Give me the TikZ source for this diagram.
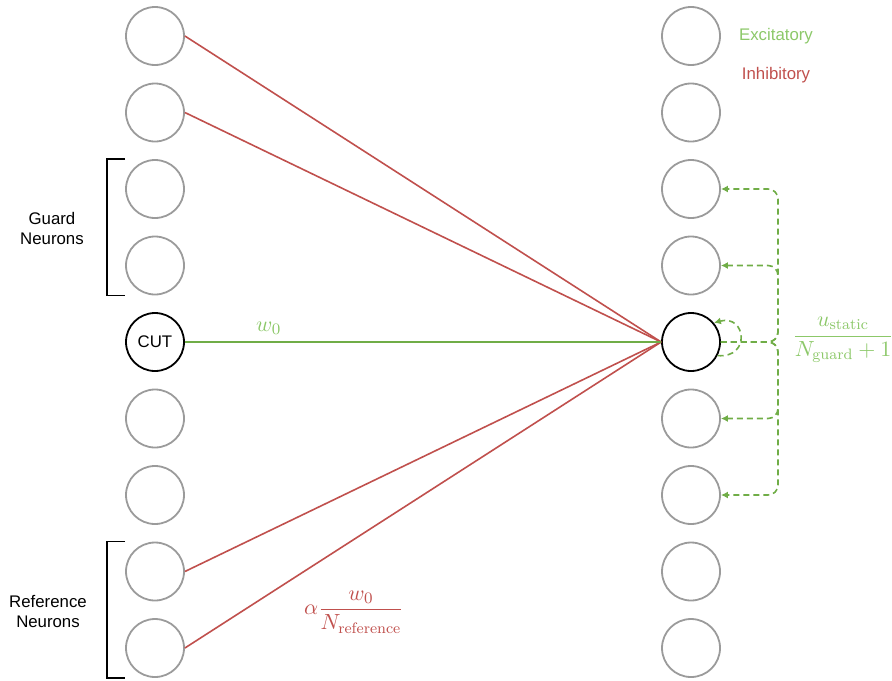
\documentclass[tikz,border=0pt]{standalone}
\usepackage{amsmath}
\usepackage{fontspec}
\newfontfamily\labelfont{Liberation Sans}
\usetikzlibrary{arrows.meta, positioning}

\definecolor{inhibred}{RGB}{192,80,77}
\definecolor{excitgreen}{RGB}{112,173,71}
\definecolor{excitlight}{RGB}{140,200,105}
\definecolor{neurongray}{RGB}{155,155,155}

\tikzset{
  neuron/.style={circle, draw=neurongray, line width=0.9pt, minimum size=29pt, inner sep=0pt},
  active/.style={neuron, draw=black},
  inhib/.style={draw=inhibred, line width=0.8pt},
  excit/.style={draw=excitgreen, line width=0.8pt},
  feedback/.style={excit, dash pattern=on 3pt off 2pt, -{Latex[length=3.5pt,width=3.5pt]}, rounded corners=5pt},
  lbl/.style={font=\labelfont\fontsize{8.4}{10}\selectfont, align=center},
  mathlbl/.style={font=\fontsize{10.8}{13}\selectfont},
  bracket/.style={draw=black, line width=0.8pt},
}

\begin{document}
\begin{tikzpicture}[x=0.5pt, y=-0.5pt]
\useasboundingbox (0,0) rectangle (892,680);

% the two columns of neurons
\foreach \i in {1,2,3,4,6,7,8,9} {
  \node[neuron] (pre\i) at (155, {36+(\i-1)*76.5}) {};
  \node[neuron] (post\i) at (691, {36+(\i-1)*76.5}) {};
}
\node[active, lbl] (pre5) at (155, 342) {CUT};
\node[active] (post5) at (691, 342) {};

% inhibitory connections from guard and reference neurons
\foreach \i in {1,2,8,9}
  \draw[inhib] (pre\i.east) -- (post5.west);

% excitatory connection from the cut
\draw[excit] (pre5.east) -- node[pos=0.176, above, mathlbl, text=excitlight] {$w_0$} (post5.west);

\node[mathlbl, text=inhibred] (alphalbl) at (354,612) {$\alpha\dfrac{w_0}{N_{\mathrm{reference}}}$};

% feedback to the guard positions
\coordinate (bus) at (778,342);
\foreach \j in {3,4,6,7}
  \draw[feedback] (post5.east) -- (bus) |- (post\j.east);
\draw[feedback] (post5.-27) to[out=-5, in=15, looseness=2.6] (post5.40);

\node[mathlbl, text=excitlight] (staticlbl) at (843,340) {$\dfrac{u_{\mathrm{static}}}{N_{\mathrm{guard}}+1}$};

% brackets and group labels
\draw[bracket] ([xshift=-15pt]pre3.north) -- ([xshift=-24pt]pre3.north) -- ([xshift=-24pt]pre4.south) -- ([xshift=-15pt]pre4.south);
\draw[bracket] ([xshift=-15pt]pre8.north) -- ([xshift=-24pt]pre8.north) -- ([xshift=-24pt]pre9.south) -- ([xshift=-15pt]pre9.south);
\node[lbl] (guardlbl) at (52,228) {Guard\\Neurons};
\node[lbl] (reflbl) at (48,611) {Reference\\Neurons};

% legend
\node[lbl, text=excitlight] (exclbl) at (776,36) {Excitatory};
\node[lbl, text=inhibred] (inhlbl) at (776,75) {Inhibitory};

\end{tikzpicture}
\end{document}
